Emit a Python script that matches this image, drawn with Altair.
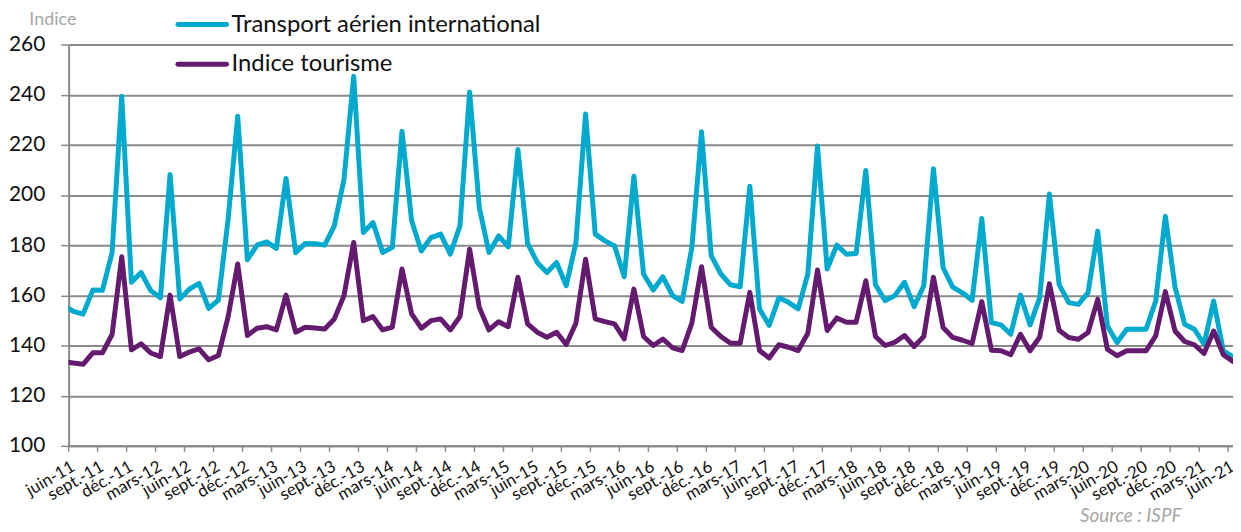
import altair as alt
import pandas as pd

tick_labels = [
    "juin-11", "sept.-11", "déc.-11", "mars-12", "juin-12", "sept.-12", "déc.-12",
    "mars-13", "juin-13", "sept.-13", "déc.-13", "mars-14", "juin-14", "sept.-14",
    "déc.-14", "mars-15", "juin-15", "sept.-15", "déc.-15", "mars-16", "juin-16",
    "sept.-16", "déc.-16", "mars-17", "juin-17", "sept.-17", "déc.-17", "mars-18",
    "juin-18", "sept.-18", "déc.-18", "mars-19", "juin-19", "sept.-19", "déc.-19",
    "mars-20", "juin-20", "sept.-20", "déc.-20", "mars-21", "juin-21",
]

transport = [
    156, 153.6, 152.5, 162.1, 162, 177, 239.4, 165.2, 169.1, 161.9, 159, 208.2,
    158.5, 162.5, 164.8, 154.8, 158.1, 190, 231.4, 174.2, 180, 181.3, 178.7, 206.6,
    177, 180.7, 180.6, 180, 187.7, 206.2, 247.3, 185, 189, 177.1, 179.1, 225.4,
    189.7, 177.7, 183, 184.4, 176.4, 187.7, 241.1, 195, 177.1, 183.7, 179.3, 218.1,
    180.7, 173.1, 169.1, 173.1, 163.8, 181, 232.3, 184.4, 181.7, 179.7, 167.4, 207.5,
    168.5, 162.1, 167.4, 159.9, 157.6, 179.1, 225.2, 175.8, 168.5, 164.2, 163.4, 203.5,
    154.6, 148, 159, 157.2, 154.6, 168.5, 219.5, 170.5, 180, 176.4, 176.7, 209.8,
    164.2, 157.9, 159.9, 165.2, 155.5, 163.8, 210.5, 171, 163.3, 161, 158, 190.6,
    149.1, 148.2, 144.5, 160.1, 148.2, 159.1, 200.4, 164.4, 157.1, 156.4, 161.1, 185.6,
    147.8, 141.2, 146.5, 146.5, 146.5, 157.7, 191.5, 163.3, 148.5, 146.5, 140.5, 157.7,
    137.9, 135.5,
]

tourisme = [
    133.6, 133, 132.5, 137.1, 137.1, 144.4, 175.4, 138.3, 140.7, 137, 135.6, 160.1,
    135.6, 137.4, 138.7, 134.3, 136, 151.3, 172.5, 144, 146.9, 147.5, 146.2, 160.1,
    145.3, 147.3, 147, 146.6, 150.6, 159.9, 181.1, 149.9, 151.5, 146.2, 147.3, 170.5,
    152.6, 146.9, 149.9, 150.6, 146.2, 151.5, 178.4, 155.2, 146.2, 149.5, 147.5, 167.2,
    148.6, 145.3, 143.3, 145.3, 140.4, 148.9, 174.4, 150.6, 149.5, 148.6, 142.6, 162.5,
    143.6, 140, 142.6, 139.1, 138, 148.9, 171.4, 147.3, 143.6, 140.9, 140.9, 161.2,
    138, 135, 140.3, 139.3, 138, 144.9, 170.1, 146, 151, 149.3, 149.3, 165.8,
    143.6, 140, 141.3, 144, 139.6, 143.6, 167.2, 147.2, 143.2, 142.1, 140.8, 157.5,
    138.1, 137.9, 136.3, 144.5, 137.9, 143.4, 164.6, 146.1, 143.2, 142.5, 145.2, 158.4,
    138.5, 135.9, 137.9, 137.9, 137.9, 143.8, 161.5, 145.8, 141.6, 140.3, 136.8, 145.8,
    136.3, 133.6,
]

series_names = ["Transport aérien international", "Indice tourisme"]
series_colors = ["#00AACF", "#641A6F"]
y_ticks = [100, 120, 140, 160, 180, 200, 220, 240, 260]

FONT = "Lato"
GRID = "#8a8a8a"
LABEL_SHIFT = 0.1  # label anchor offset from tick (in months)

rows = []
for i in range(len(transport)):
    rows.append({"m": i, "serie": series_names[0], "order": 0, "v": transport[i]})
    rows.append({"m": i, "serie": series_names[1], "order": 1, "v": tourisme[i]})
df = pd.DataFrame(rows)

tick_pos = [0.5 + 3 * k for k in range(len(tick_labels))]
ticks_df = pd.DataFrame({"t": tick_pos})
labels_df = pd.DataFrame({"p": [t + LABEL_SHIFT for t in tick_pos], "lab": tick_labels})

xscale = alt.Scale(domain=[0.5, 121], nice=False, zero=False)

x_enc = alt.X(
    "m:Q",
    scale=xscale,
    axis=alt.Axis(
        values=tick_pos, labels=False, ticks=False,
        domainColor=GRID, domainWidth=2, grid=False, title=None,
    ),
)
y_enc = alt.Y(
    "v:Q",
    scale=alt.Scale(domain=[100, 260], nice=False, zero=False),
    axis=alt.Axis(
        values=y_ticks, grid=True, gridColor=GRID, gridWidth=2,
        tickSize=8, tickColor=GRID, tickWidth=1.5, domainColor=GRID, domainWidth=2,
        labelFont=FONT, labelFontSize=21, labelColor="#111", labelPadding=16,
        title="Indice", titleAngle=0, titleX=-40, titleY=-25,
        titleAlign="left", titleBaseline="middle", titleFont=FONT,
        titleFontSize=18, titleFontWeight="normal", titleColor="#a6a6a6",
    ),
)

lines = alt.Chart(df).mark_line(
    strokeWidth=5, clip=True, strokeJoin="round", strokeCap="round"
).encode(
    x=x_enc, y=y_enc,
    color=alt.Color("serie:N", scale=alt.Scale(domain=series_names, range=series_colors), legend=None),
    order=alt.Order("order:Q"),
    detail="serie:N",
)

xticks = alt.Chart(ticks_df).mark_rule(color=GRID, strokeWidth=1.5).encode(
    x=alt.X("t:Q", scale=xscale), y=alt.value(404), y2=alt.value(410)
)

xlabels = alt.Chart(labels_df).mark_text(
    angle=330, align="right", baseline="top", font=FONT, fontSize=17, color="#111"
).encode(
    x=alt.X("p:Q", scale=xscale), y=alt.value(417), text="lab:N"
)

dummy = pd.DataFrame({"a": [0]})
legend_layers = []
for j, (name, col) in enumerate(zip(series_names, series_colors)):
    yy = -20 + 40 * j
    legend_layers.append(
        alt.Chart(dummy).mark_rule(strokeWidth=5, color=col, strokeCap="round").encode(
            x=alt.value(110), x2=alt.value(159), y=alt.value(yy)
        )
    )
    legend_layers.append(
        alt.Chart(dummy).mark_text(
            text=name, align="left", baseline="middle", font=FONT, fontSize=24, color="#111"
        ).encode(x=alt.value(164), y=alt.value(yy))
    )

source = alt.Chart(dummy).mark_text(
    text="Source : ISPF", align="left", baseline="middle", font=FONT,
    fontSize=19, fontStyle="italic", color="#a6a6a6"
).encode(x=alt.value(1018), y=alt.value(475))

chart = alt.layer(lines, xticks, xlabels, *legend_layers, source).properties(
    width=1172, height=404,
    padding={"left": 61, "top": 35, "right": 0, "bottom": 85},
    autosize=alt.AutoSizeParams(type="none"),
).configure_view(stroke=None)

chart.save("out.html", embed_options={"renderer": "svg", "actions": False})
